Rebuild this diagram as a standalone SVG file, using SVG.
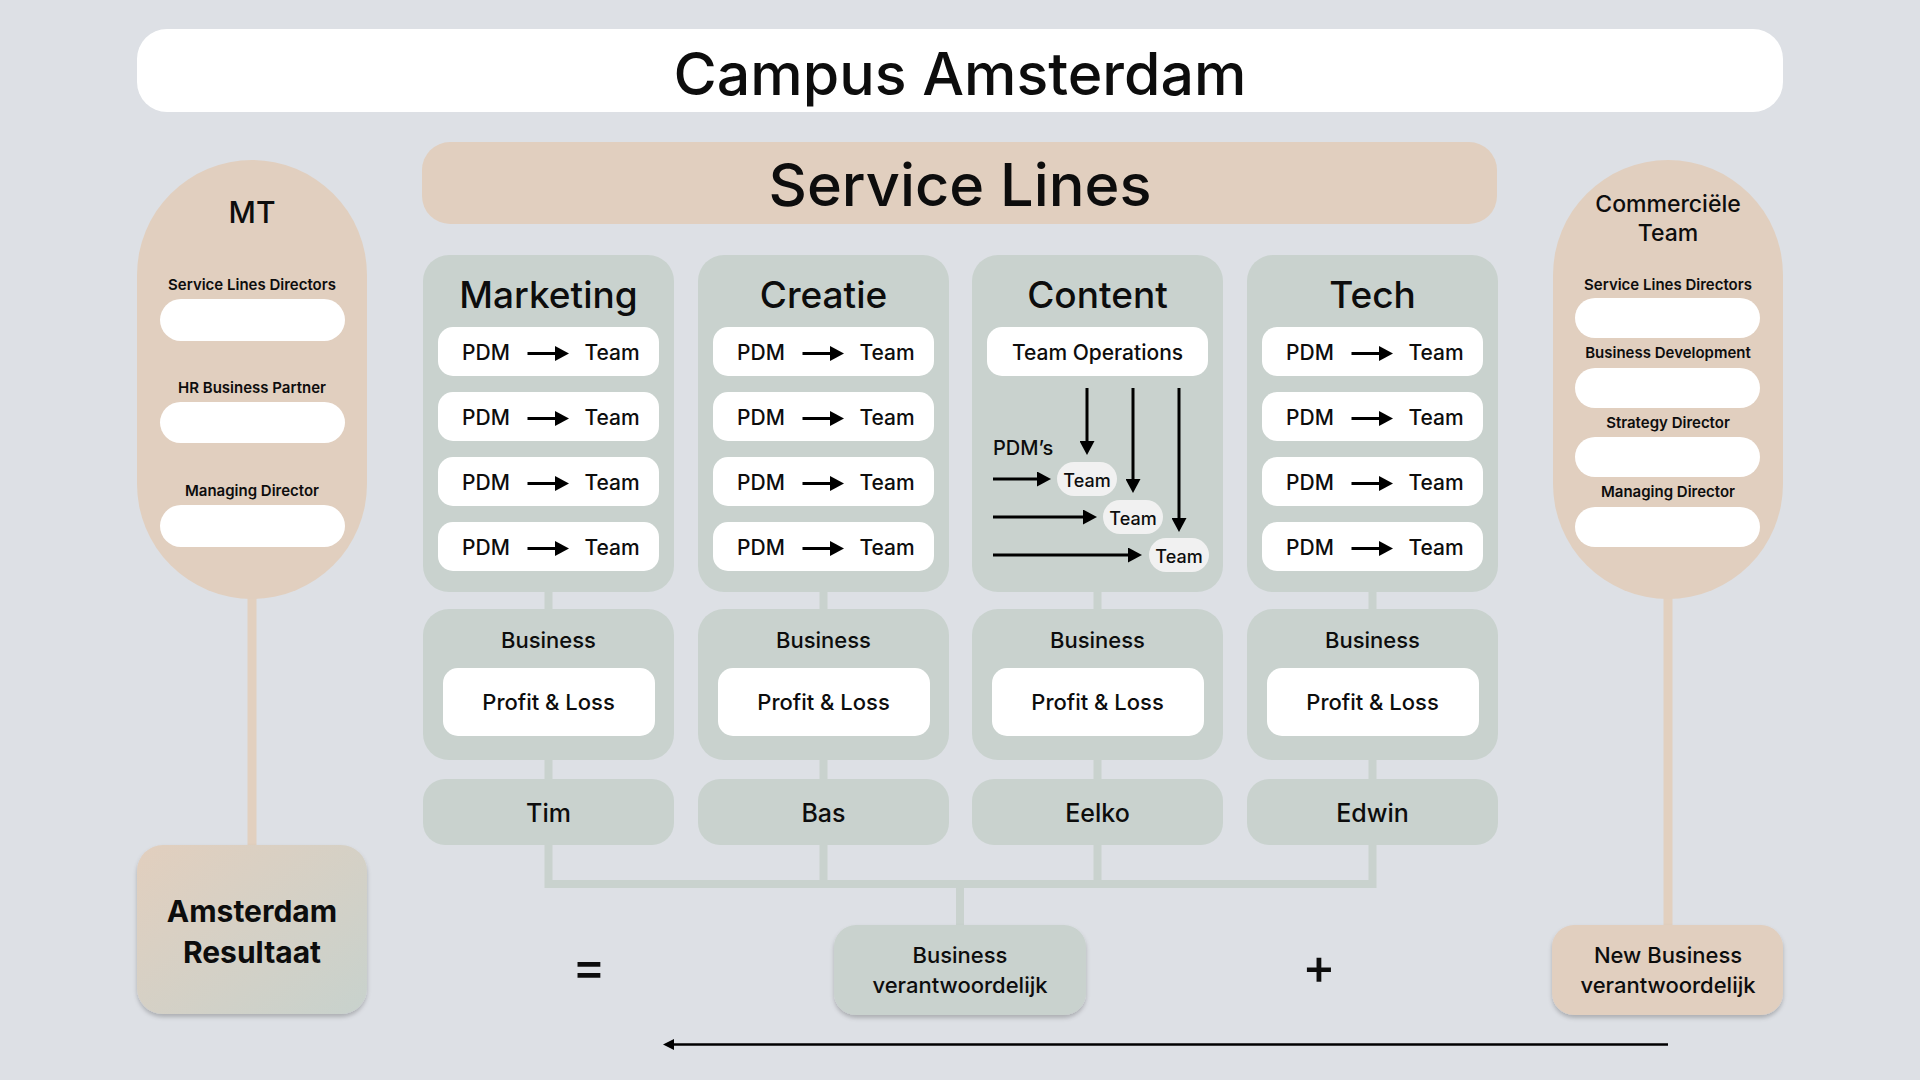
<svg xmlns="http://www.w3.org/2000/svg" width="1920" height="1080" viewBox="0 0 1920 1080">
<defs>
<style>
text{font-family:Inter,"Liberation Sans",sans-serif;fill:#0d0d0d;text-anchor:middle}
.t1{font-size:59px;font-weight:500}
.t2{font-size:59.5px;font-weight:500}
.ct{font-size:37px;font-weight:500}
.row{font-size:21px;font-weight:500}
.lab{font-size:15px;font-weight:600}
.sm{font-size:18px;font-weight:500}
.bz{font-size:22px;font-weight:500}
.nm{font-size:25px;font-weight:500}
.panel{fill:#c9d2ce}
.beige{fill:#e1cfbf}
.white{fill:#ffffff}
.gc{stroke:#c9d2ce;stroke-width:8;fill:none}
.bc{stroke:#e2d0bf;stroke-width:9;fill:none}
.ar{stroke:#000;stroke-width:3;fill:none;marker-end:url(#ah)}
</style>
<marker id="ah" viewBox="0 0 14 15" refX="10" refY="7.5" markerWidth="14" markerHeight="15" markerUnits="userSpaceOnUse" orient="auto"><path d="M0,0 L14,7.5 L0,15 z" fill="#000"/></marker>
<marker id="ahs" viewBox="0 0 11 11" refX="8" refY="5.5" markerWidth="11" markerHeight="11" markerUnits="userSpaceOnUse" orient="auto"><path d="M0,0 L11,5.5 L0,11 z" fill="#000"/></marker>
<linearGradient id="grad" x1="0" y1="0" x2="1" y2="1"><stop offset="0" stop-color="#e2cfbe"/><stop offset="1" stop-color="#c8d2cd"/></linearGradient>
<filter id="sh" x="-10%" y="-10%" width="120%" height="130%"><feDropShadow dx="0" dy="3" stdDeviation="2" flood-color="#000" flood-opacity="0.22"/></filter>
</defs>
<rect width="1920" height="1080" fill="#dde0e5"/>

<g id="connectors">
<path class="bc" d="M252,598 V846"/>
<path class="bc" d="M1668,598 V926"/>
<path class="gc" d="M548.5,590 V610 M823.5,590 V610 M1097.5,590 V610 M1372.5,590 V610"/>
<path class="gc" d="M548.5,759 V780 M823.5,759 V780 M1097.5,759 V780 M1372.5,759 V780"/>
<path class="gc" d="M548.5,844 V884 H1372.5 V844 M823.5,844 V884 M1097.5,844 V884 M960,884 V926"/>
<path d="M1668,1044.5 H666" stroke="#000" stroke-width="2.5" fill="none" marker-end="url(#ahs)"/>
</g>

<g id="title">
<rect x="137" y="29" width="1646" height="83" rx="30" class="white"/>
<text x="960" y="95" class="t1">Campus Amsterdam</text>
</g>

<g id="service-lines">
<rect x="422" y="142" width="1075" height="82" rx="28" class="beige"/>
<text x="960" y="206" class="t2">Service Lines</text>
</g>

<g id="mt">
<rect x="137" y="160" width="230" height="439" rx="115" class="beige"/>
<text x="252" y="223" style="font-size:30px;font-weight:500">MT</text>
<text x="252" y="290" class="lab">Service Lines Directors</text>
<rect x="160" y="299" width="185" height="42" rx="21" class="white"/>
<text x="252" y="393" class="lab">HR Business Partner</text>
<rect x="160" y="402" width="185" height="41" rx="20.5" class="white"/>
<text x="252" y="496" class="lab">Managing Director</text>
<rect x="160" y="505" width="185" height="42" rx="21" class="white"/>
</g>

<g id="commerciele-team">
<rect x="1553" y="160" width="230" height="439" rx="115" class="beige"/>
<text x="1668" y="212" style="font-size:23px;font-weight:500">Commerciële</text>
<text x="1668" y="241" style="font-size:23px;font-weight:500">Team</text>
<text x="1668" y="290" class="lab">Service Lines Directors</text>
<rect x="1575" y="298" width="185" height="40" rx="20" class="white"/>
<text x="1668" y="358" class="lab">Business Development</text>
<rect x="1575" y="368" width="185" height="40" rx="20" class="white"/>
<text x="1668" y="428" class="lab">Strategy Director</text>
<rect x="1575" y="437" width="185" height="40" rx="20" class="white"/>
<text x="1668" y="497" class="lab">Managing Director</text>
<rect x="1575" y="507" width="185" height="40" rx="20" class="white"/>
</g>

<g id="marketing">
<rect x="423" y="255" width="251" height="337" rx="26" class="panel"/>
<text x="548.5" y="308" class="ct">Marketing</text>
<rect x="438" y="327" width="221" height="49" rx="15" class="white"/>
<text x="486" y="360" class="row">PDM</text><path class="ar" d="M527.5,353.5 H565"/><text x="612" y="360" class="row">Team</text>
<rect x="438" y="392" width="221" height="49" rx="15" class="white"/>
<text x="486" y="425" class="row">PDM</text><path class="ar" d="M527.5,418.5 H565"/><text x="612" y="425" class="row">Team</text>
<rect x="438" y="457" width="221" height="49" rx="15" class="white"/>
<text x="486" y="490" class="row">PDM</text><path class="ar" d="M527.5,483.5 H565"/><text x="612" y="490" class="row">Team</text>
<rect x="438" y="522" width="221" height="49" rx="15" class="white"/>
<text x="486" y="555" class="row">PDM</text><path class="ar" d="M527.5,548.5 H565"/><text x="612" y="555" class="row">Team</text>
</g>

<g id="creatie">
<rect x="698" y="255" width="251" height="337" rx="26" class="panel"/>
<text x="823.5" y="308" class="ct">Creatie</text>
<rect x="713" y="327" width="221" height="49" rx="15" class="white"/>
<text x="761" y="360" class="row">PDM</text><path class="ar" d="M802.5,353.5 H840"/><text x="887" y="360" class="row">Team</text>
<rect x="713" y="392" width="221" height="49" rx="15" class="white"/>
<text x="761" y="425" class="row">PDM</text><path class="ar" d="M802.5,418.5 H840"/><text x="887" y="425" class="row">Team</text>
<rect x="713" y="457" width="221" height="49" rx="15" class="white"/>
<text x="761" y="490" class="row">PDM</text><path class="ar" d="M802.5,483.5 H840"/><text x="887" y="490" class="row">Team</text>
<rect x="713" y="522" width="221" height="49" rx="15" class="white"/>
<text x="761" y="555" class="row">PDM</text><path class="ar" d="M802.5,548.5 H840"/><text x="887" y="555" class="row">Team</text>
</g>

<g id="content">
<rect x="972" y="255" width="251" height="337" rx="26" class="panel"/>
<text x="1097.5" y="308" class="ct">Content</text>
<rect x="987" y="327" width="221" height="49" rx="15" class="white"/>
<text x="1097.5" y="360" class="row">Team Operations</text>
<text x="993" y="455" class="row" style="text-anchor:start;font-size:20px">PDM’s</text>
<path class="ar" d="M1087,388 V451"/>
<path class="ar" d="M1133,388 V489"/>
<path class="ar" d="M1179,388 V528"/>
<path class="ar" d="M993,479 H1047"/>
<path class="ar" d="M993,517 H1093"/>
<path class="ar" d="M993,555 H1138"/>
<rect x="1057" y="462" width="60" height="34" rx="17" fill="#f1f1f1"/>
<text x="1087" y="487" class="sm">Team</text>
<rect x="1103" y="500" width="60" height="34" rx="17" fill="#f1f1f1"/>
<text x="1133" y="525" class="sm">Team</text>
<rect x="1149" y="538" width="60" height="34" rx="17" fill="#f1f1f1"/>
<text x="1179" y="563" class="sm">Team</text>
</g>

<g id="tech">
<rect x="1247" y="255" width="251" height="337" rx="26" class="panel"/>
<text x="1372.5" y="308" class="ct">Tech</text>
<rect x="1262" y="327" width="221" height="49" rx="15" class="white"/>
<text x="1310" y="360" class="row">PDM</text><path class="ar" d="M1351.5,353.5 H1389"/><text x="1436" y="360" class="row">Team</text>
<rect x="1262" y="392" width="221" height="49" rx="15" class="white"/>
<text x="1310" y="425" class="row">PDM</text><path class="ar" d="M1351.5,418.5 H1389"/><text x="1436" y="425" class="row">Team</text>
<rect x="1262" y="457" width="221" height="49" rx="15" class="white"/>
<text x="1310" y="490" class="row">PDM</text><path class="ar" d="M1351.5,483.5 H1389"/><text x="1436" y="490" class="row">Team</text>
<rect x="1262" y="522" width="221" height="49" rx="15" class="white"/>
<text x="1310" y="555" class="row">PDM</text><path class="ar" d="M1351.5,548.5 H1389"/><text x="1436" y="555" class="row">Team</text>
</g>

<g id="business-marketing">
<rect x="423" y="609" width="251" height="151" rx="26" class="panel"/>
<text x="548.5" y="648" class="bz">Business</text>
<rect x="443" y="668" width="212" height="68" rx="15" class="white"/>
<text x="548.5" y="710" class="bz">Profit &amp; Loss</text>
</g>
<g id="business-creatie">
<rect x="698" y="609" width="251" height="151" rx="26" class="panel"/>
<text x="823.5" y="648" class="bz">Business</text>
<rect x="718" y="668" width="212" height="68" rx="15" class="white"/>
<text x="823.5" y="710" class="bz">Profit &amp; Loss</text>
</g>
<g id="business-content">
<rect x="972" y="609" width="251" height="151" rx="26" class="panel"/>
<text x="1097.5" y="648" class="bz">Business</text>
<rect x="992" y="668" width="212" height="68" rx="15" class="white"/>
<text x="1097.5" y="710" class="bz">Profit &amp; Loss</text>
</g>
<g id="business-tech">
<rect x="1247" y="609" width="251" height="151" rx="26" class="panel"/>
<text x="1372.5" y="648" class="bz">Business</text>
<rect x="1267" y="668" width="212" height="68" rx="15" class="white"/>
<text x="1372.5" y="710" class="bz">Profit &amp; Loss</text>
</g>

<g id="tim"><rect x="423" y="779" width="251" height="66" rx="22" class="panel"/><text x="548.5" y="822" class="nm">Tim</text></g>
<g id="bas"><rect x="698" y="779" width="251" height="66" rx="22" class="panel"/><text x="823.5" y="822" class="nm">Bas</text></g>
<g id="eelko"><rect x="972" y="779" width="251" height="66" rx="22" class="panel"/><text x="1097.5" y="822" class="nm">Eelko</text></g>
<g id="edwin"><rect x="1247" y="779" width="251" height="66" rx="22" class="panel"/><text x="1372.5" y="822" class="nm">Edwin</text></g>

<g id="amsterdam-resultaat">
<rect x="137" y="845" width="230" height="169" rx="26" fill="url(#grad)" filter="url(#sh)"/>
<text x="252" y="922" style="font-size:30px;font-weight:700">Amsterdam</text>
<text x="252" y="963" style="font-size:30px;font-weight:700">Resultaat</text>
</g>

<g id="business-verantwoordelijk">
<rect x="834" y="925" width="252" height="90" rx="22" class="panel" filter="url(#sh)"/>
<text x="960" y="963" class="bz">Business</text>
<text x="960" y="993" class="bz">verantwoordelijk</text>
</g>

<g id="new-business-verantwoordelijk">
<rect x="1552" y="925" width="231" height="90" rx="22" class="beige" filter="url(#sh)"/>
<text x="1668" y="963" class="bz">New Business</text>
<text x="1668" y="993" class="bz">verantwoordelijk</text>
</g>

<text x="589" y="984" style="font-size:50px;font-weight:500">=</text>
<text x="1319" y="984" style="font-size:50px;font-weight:500">+</text>
</svg>
